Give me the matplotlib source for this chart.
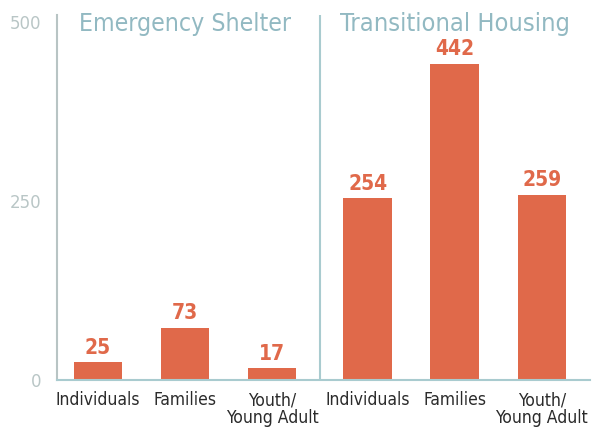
import matplotlib
matplotlib.use("Agg")
from matplotlib import pyplot as plt

# chart data
groups = ["Emergency Shelter", "Transitional Housing"]
categories = ["Individuals", "Families", "Youth/\nYoung Adult"]
shelter_counts = [25, 73, 17]
transitional_counts = [254, 442, 259]
y_ticks = [0, 250, 500]

BAR_COLOR = "#e0694a"
TITLE_COLOR = "#92b9c2"
LINE_COLOR = "#a9cbcf"

plt.rcParams["font.family"] = ["DejaVu Sans"]
plt.rcParams["font.stretch"] = "condensed"

fig = plt.figure(figsize=(6, 4.3), dpi=100)
ax = fig.add_axes([0.095, 0.1163, 0.888, 0.849])

gap = 0.1
left_x = [i for i in range(len(categories))]
right_x = [i + len(categories) + gap for i in range(len(categories))]

ax.bar(left_x, shelter_counts, width=0.56, color=BAR_COLOR)
ax.bar(right_x, transitional_counts, width=0.56, color=BAR_COLOR)

# value labels on top of bars
for x, v in zip(left_x + right_x, shelter_counts + transitional_counts):
    ax.text(x, v + 6, str(v), ha="center", va="bottom", color=BAR_COLOR,
            fontsize=15, fontweight="bold")

# divider between the two groups
mid = (left_x[-1] + right_x[0]) / 2
ax.axvline(mid, color=LINE_COLOR, lw=1.5)

# group titles
ax.text(left_x[1], 497, groups[0], ha="center", va="center", color=TITLE_COLOR, fontsize=17.8)
ax.text(right_x[1], 497, groups[1], ha="center", va="center", color=TITLE_COLOR, fontsize=18.3)

ax.set_xlim(-0.47, right_x[-1] + 0.55)
ax.set_ylim(0, 510)
ax.set_xticks(left_x + right_x)
ax.set_xticklabels(categories * 2, fontsize=12.5, color="#2b2b2b", linespacing=1.0)
ax.set_yticks(y_ticks)
ax.set_yticklabels([str(t) for t in y_ticks], fontsize=12, color="#b9c6c6",
                   fontstretch="normal")
ax.tick_params(length=0)
ax.tick_params(axis="x", pad=8)
ax.tick_params(axis="y", pad=11)

for side in ["top", "right"]:
    ax.spines[side].set_visible(False)
ax.spines["left"].set_color("#b8c4c4")
ax.spines["left"].set_linewidth(1.5)
ax.spines["bottom"].set_color(LINE_COLOR)
ax.spines["bottom"].set_linewidth(1.5)

fig.savefig("out.png", dpi=100)
